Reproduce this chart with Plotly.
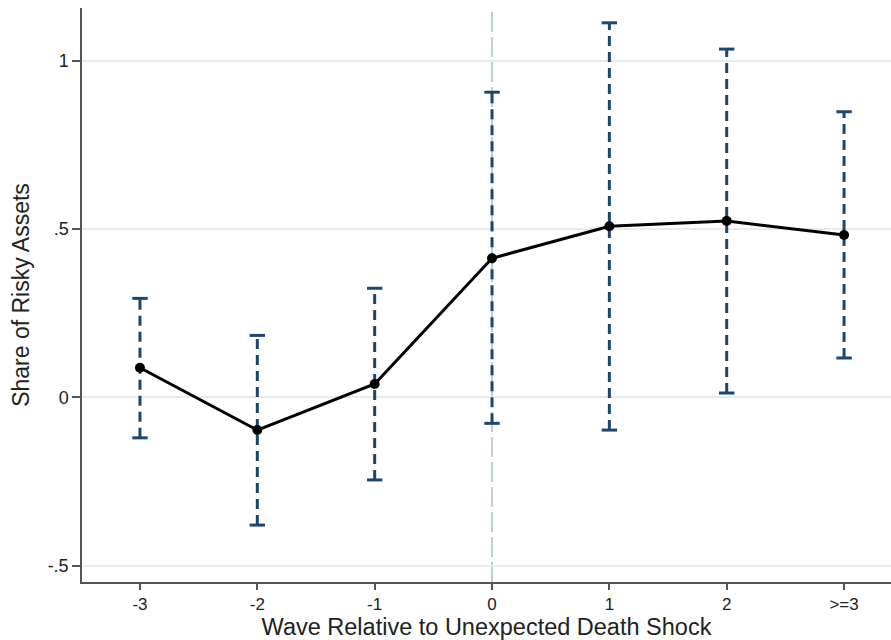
import plotly.graph_objects as go

waves = ["-3", "-2", "-1", "0", "1", "2", ">=3"]
estimate = [0.088, -0.097, 0.040, 0.413, 0.508, 0.524, 0.482]
ci_upper = [0.294, 0.184, 0.324, 0.906, 1.112, 1.034, 0.848]
ci_lower = [-0.120, -0.379, -0.245, -0.077, -0.097, 0.013, 0.117]
y_ticks = [-0.5, 0, 0.5, 1]
y_tick_labels = ["-.5", "0", ".5", "1"]

pos = list(range(len(waves)))
navy = "#1a476f"
font = "Liberation Sans, Arial, sans-serif"

fig = go.Figure()

# dashed CI spikes
ex, ey = [], []
for i, lo, hi in zip(pos, ci_lower, ci_upper):
    ex += [i, i, None]
    ey += [lo, hi, None]
fig.add_trace(go.Scatter(x=ex, y=ey, mode="lines",
                         line=dict(color=navy, width=3, dash="10px,6px"),
                         hoverinfo="skip", showlegend=False))
# caps
fig.add_trace(go.Scatter(x=pos + pos, y=ci_upper + ci_lower, mode="markers",
                         marker=dict(symbol="line-ew", size=11,
                                     line=dict(color=navy, width=3)),
                         hoverinfo="skip", showlegend=False))
# point estimates
fig.add_trace(go.Scatter(x=pos, y=estimate, mode="lines+markers",
                         line=dict(color="black", width=3),
                         marker=dict(color="black", size=10),
                         showlegend=False))

# reference lines
fig.add_shape(type="line", xref="paper", yref="y", x0=0, x1=1, y0=0, y1=0,
              line=dict(color="#8aa5a5", width=1, dash="12px,6px"), layer="below")
fig.add_shape(type="line", xref="x", yref="paper", x0=pos[waves.index("0")],
              x1=pos[waves.index("0")], y0=0, y1=1,
              line=dict(color="#7f9f9f", width=1, dash="20px,5px"), layer="below")

fig.update_layout(
    width=891, height=640,
    margin=dict(l=82, r=0, t=8, b=58, autoexpand=False),
    paper_bgcolor="white", plot_bgcolor="white",
    font=dict(family=font, size=18, color="#222222"),
    xaxis=dict(range=[-0.494, 6.40], tickvals=pos, ticktext=waves,
               showgrid=False, zeroline=False, automargin=False,
               showline=True, linecolor="#555555", linewidth=1.5,
               ticks="outside", ticklen=6, tickcolor="#555555", tickwidth=1.5,
               tickfont=dict(size=17),
               title=dict(text="Wave Relative to Unexpected Death Shock",
                          font=dict(size=23.5), standoff=3)),
    yaxis=dict(range=[-0.548, 1.156], tickvals=y_ticks, ticktext=y_tick_labels,
               showgrid=True, gridcolor="#e3eded", gridwidth=2,
               zeroline=False, automargin=False,
               showline=True, linecolor="#555555", linewidth=1.5,
               ticks="outside", ticklen=8, tickcolor="#555555", tickwidth=1.5,
               tickfont=dict(size=18),
               title=dict(text="Share of Risky Assets", font=dict(size=23),
                          standoff=12)),
)

fig.write_html("out.html", config={"displayModeBar": False},
               post_script="document.body.style.margin='0';document.body.style.overflow='hidden';")
